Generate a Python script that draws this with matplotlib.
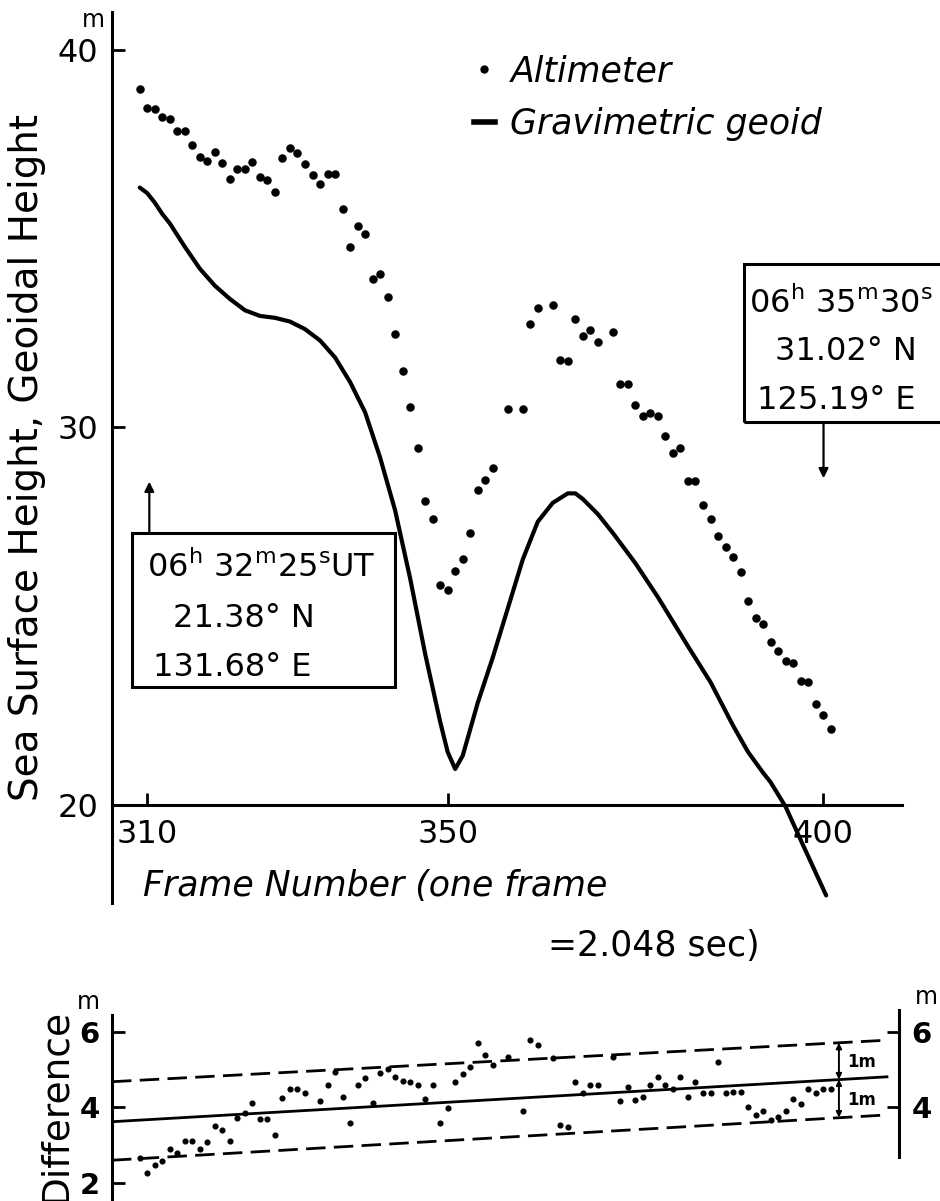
import matplotlib
matplotlib.use('Agg')
import matplotlib.pyplot as plt
from matplotlib.patches import Rectangle
from matplotlib.lines import Line2D

plt.rcParams['font.family'] = ['DejaVu Sans']
plt.rcParams['mathtext.fontset'] = 'dejavusans'

# altimeter sea surface height, one dot per frame (m)
alt_frames = [309, 310, 311, 312, 313, 314, 315, 316, 317, 318, 319, 320, 321, 322, 323, 324,
              325, 326, 327, 328, 329, 330, 331, 332, 333, 334, 335, 336, 337, 338, 339, 340,
              341, 342, 343, 344, 345, 346, 347, 348, 349, 350, 351, 352, 353, 354, 355, 356,
              358, 360, 361, 362, 364, 365, 366, 367, 368, 369, 370, 372, 373, 374, 375, 376,
              377, 378, 379, 380, 381, 382, 383, 384, 385, 386, 387, 388, 389, 390, 391, 392,
              393, 394, 395, 396, 397, 398, 399, 400, 401]
alt_height = [38.96, 38.46, 38.43, 38.23, 38.16, 37.85, 37.85, 37.49, 37.17, 37.05, 37.28, 37.00,
              36.58, 36.85, 36.83, 37.04, 36.63, 36.54, 36.22, 37.12, 37.39, 37.26, 36.97, 36.68,
              36.44, 36.72, 36.72, 35.78, 34.77, 35.34, 35.11, 33.94, 34.07, 33.44, 32.48, 31.50,
              30.54, 29.44, 28.04, 27.57, 25.83, 25.70, 26.20, 26.52, 27.19, 28.33, 28.61, 28.91,
              30.48, 30.48, 32.74, 33.17, 33.24, 31.77, 31.75, 32.87, 32.41, 32.59, 32.27, 32.53,
              31.14, 31.15, 30.59, 30.30, 30.38, 30.31, 29.76, 29.33, 29.44, 28.58, 28.58, 27.95,
              27.57, 27.11, 26.84, 26.56, 26.16, 25.40, 24.95, 24.79, 24.30, 24.07, 23.82, 23.76,
              23.29, 23.25, 22.68, 22.38, 22.01]

# gravimetric geoid (m)
geoid_frames = [309, 310, 311, 312, 313, 315, 317, 319, 321, 323, 325, 327, 329, 331, 333, 335,
                337, 339, 341, 343, 345, 347, 349, 350, 351, 352, 353, 354, 355, 356, 358, 360,
                362, 364, 366, 367, 368, 370, 372, 375, 378, 380, 382, 385, 388, 390, 392, 393,
                395, 397.4, 400.4]
geoid_height = [36.35, 36.2, 35.95, 35.65, 35.4, 34.78, 34.2, 33.75, 33.4, 33.1, 32.95, 32.9,
                32.8, 32.6, 32.3, 31.85, 31.2, 30.4, 29.2, 27.8, 26.0, 24.0, 22.2, 21.4, 20.95,
                21.3, 22.0, 22.7, 23.3, 23.9, 25.2, 26.5, 27.5, 28.0, 28.25, 28.25, 28.1, 27.7,
                27.2, 26.4, 25.5, 24.85, 24.2, 23.25, 22.1, 21.4, 20.85, 20.6, 19.95, 18.9, 17.6]

# difference altimeter - geoid (m)
diff_frames = [309, 310, 311, 312, 313, 314, 315, 316, 317, 318, 319, 320, 321, 322, 323, 324,
               325, 326, 327, 328, 329, 330, 331, 333, 334, 335, 336, 337, 338, 339, 340, 341,
               342, 343, 344, 345, 346, 347, 348, 349, 350, 351, 352, 353, 354, 355, 356, 358,
               360, 361, 362, 364, 365, 366, 367, 368, 369, 370, 372, 373, 374, 375, 376, 377,
               378, 379, 380, 381, 382, 383, 384, 385, 386, 387, 388, 389, 390, 391, 392, 393,
               394, 395, 396, 397, 398, 399, 400, 401]
diff_vals = [2.65, 2.25, 2.47, 2.59, 2.90, 2.80, 3.11, 3.11, 2.89, 3.07, 3.50, 3.40, 3.11, 3.72,
             3.86, 4.12, 3.69, 3.69, 3.27, 4.26, 4.48, 4.49, 4.37, 4.17, 4.59, 4.94, 4.27, 3.58,
             4.59, 4.77, 4.11, 4.92, 5.01, 4.80, 4.70, 4.66, 4.59, 4.21, 4.59, 3.58, 3.98, 4.68,
             4.88, 5.08, 5.70, 5.39, 5.12, 5.34, 3.91, 5.78, 5.65, 5.30, 3.54, 3.49, 4.68, 4.37,
             4.59, 4.59, 5.34, 4.17, 4.53, 4.19, 4.28, 4.59, 4.81, 4.59, 4.48, 4.81, 4.28, 4.68,
             4.37, 4.37, 5.21, 4.37, 4.41, 4.41, 4.00, 3.80, 3.91, 3.66, 3.74, 3.91, 4.21, 4.09,
             4.50, 4.37, 4.50, 4.50]

# trend line and +-1 m band
band_frames = [305.3, 408.5]
band_mid = [3.62, 4.81]
band_hi = [4.68, 5.78]
band_lo = [2.60, 3.80]

W, H = 940, 1201
fig = plt.figure(figsize=(W / 100, H / 100), dpi=100)


def px(x, y):
    return x / W, 1 - y / H


# ---- upper panel
ax = fig.add_axes([112 / W, 1 - 903 / H, 790 / W, 891 / H])
ax.set_xlim(305.3, 410.5)
ax.set_ylim(17.4, 41.0)
ax.spines['top'].set_visible(False)
ax.spines['right'].set_visible(False)
ax.spines['bottom'].set_position(('data', 20))
for s in ('left', 'bottom'):
    ax.spines[s].set_linewidth(2.2)
ax.set_xticks([310, 350, 400])
ax.set_yticks([20, 30, 40])
ax.tick_params(direction='in', length=9, width=2, labelsize=23, pad=10)

ax.scatter(alt_frames, alt_height, s=26, c='k', zorder=3)
ax.plot(geoid_frames, geoid_height, color='k', lw=3, solid_capstyle='round', clip_on=False)

ax.set_ylabel('Sea Surface Height, Geoidal Height', fontsize=28, labelpad=8)
fig.text(*px(93, 20), 'm', fontsize=17, ha='center', va='center')

fig.text(*px(143, 886), 'Frame Number (one frame', fontsize=25, ha='left', va='center',
         style='italic')
fig.text(*px(548, 946), '=2.048 sec)', fontsize=25, ha='left', va='center')

handles = [Line2D([], [], marker='o', ls='none', color='k', ms=5),
           Line2D([], [], color='k', lw=4)]
fig.legend(handles, ['Altimeter', 'Gravimetric geoid'], loc='upper left',
           bbox_to_anchor=px(474, 54), frameon=False, handlelength=0.6,
           prop={'size': 25, 'style': 'italic'},
           handletextpad=0.45, labelspacing=0.55, borderpad=0, borderaxespad=0)

# start / end boxes
ax.add_patch(Rectangle((307.95, 23.13), 35.05, 4.07, fill=False, lw=2.2, ec='k', zorder=4))
ax.annotate('', xy=(310.27, 28.56), xytext=(310.27, 27.2),
            arrowprops=dict(arrowstyle='-|>', lw=1.6, color='k', shrinkA=0, shrinkB=0,
                            mutation_scale=14))
fig.text(*px(147, 567), r'06$^{\mathrm{h}}$ 32$^{\mathrm{m}}$25$^{\mathrm{s}}$UT', fontsize=23,
         ha='left', va='center')
fig.text(*px(173, 618), '21.38° N', fontsize=23, ha='left', va='center')
fig.text(*px(153, 667), '131.68° E', fontsize=23, ha='left', va='center')

ax.add_patch(Rectangle((389.4, 30.13), 30, 4.2, fill=False, lw=2.2, ec='k', clip_on=False,
                       zorder=4))
ax.annotate('', xy=(400.05, 28.65), xytext=(400.05, 30.13),
            arrowprops=dict(arrowstyle='-|>', lw=1.6, color='k', shrinkA=0, shrinkB=0,
                            mutation_scale=14))
fig.text(*px(749, 303), r'06$^{\mathrm{h}}$ 35$^{\mathrm{m}}$30$^{\mathrm{s}}$', fontsize=23,
         ha='left', va='center')
fig.text(*px(775, 352), '31.02° N', fontsize=23, ha='left', va='center')
fig.text(*px(757, 400), '125.19° E', fontsize=23, ha='left', va='center')

# ---- difference panel
ax2 = fig.add_axes([112 / W, 0, 787 / W, 191 / H])
ax2.set_xlim(305.3, 410.1)
ax2.set_ylim(1.52, 6.58)
ax2.spines['top'].set_visible(False)
ax2.spines['bottom'].set_visible(False)
ax2.spines['left'].set_bounds(1.52, 6.45)
ax2.spines['right'].set_bounds(2.69, 6.58)
for s in ('left', 'right'):
    ax2.spines[s].set_linewidth(2.2)
ax2.set_xticks([])
ax2.set_yticks([2, 4, 6])
ax2.tick_params(axis='y', direction='in', length=9, width=2, labelsize=21, pad=9,
                right=True, labelright=True)
for lab in ax2.get_yticklabels():
    lab.set_fontweight('bold')
ax2.yaxis.get_major_ticks()[0].tick2line.set_visible(False)
ax2.yaxis.get_major_ticks()[0].label2.set_visible(False)

ax2.plot(diff_frames, diff_vals, 'o', color='k', ms=3.4, zorder=3)
ax2.plot(band_frames, band_mid, color='k', lw=2)
ax2.plot(band_frames, band_hi, color='k', lw=2, dashes=(7, 3))
ax2.plot(band_frames, band_lo, color='k', lw=2, dashes=(7, 3))

for y0, y1, ty in [(5.71, 4.74, 5.2), (4.74, 3.73, 4.19)]:
    ax2.annotate('', xy=(402.1, y0), xytext=(402.1, y1),
                 arrowprops=dict(arrowstyle='<|-|>', lw=1.4, color='k', shrinkA=0, shrinkB=0,
                                 mutation_scale=8))
    ax2.text(403.2, ty, '1m', fontsize=12, fontweight='bold', ha='left', va='center')

ax2.set_ylabel('Difference', fontsize=27, labelpad=4)
fig.text(*px(88, 1002), 'm', fontsize=17, ha='center', va='center')
fig.text(*px(926, 997), 'm', fontsize=17, ha='center', va='center')

fig.savefig('out.png', dpi=100)
